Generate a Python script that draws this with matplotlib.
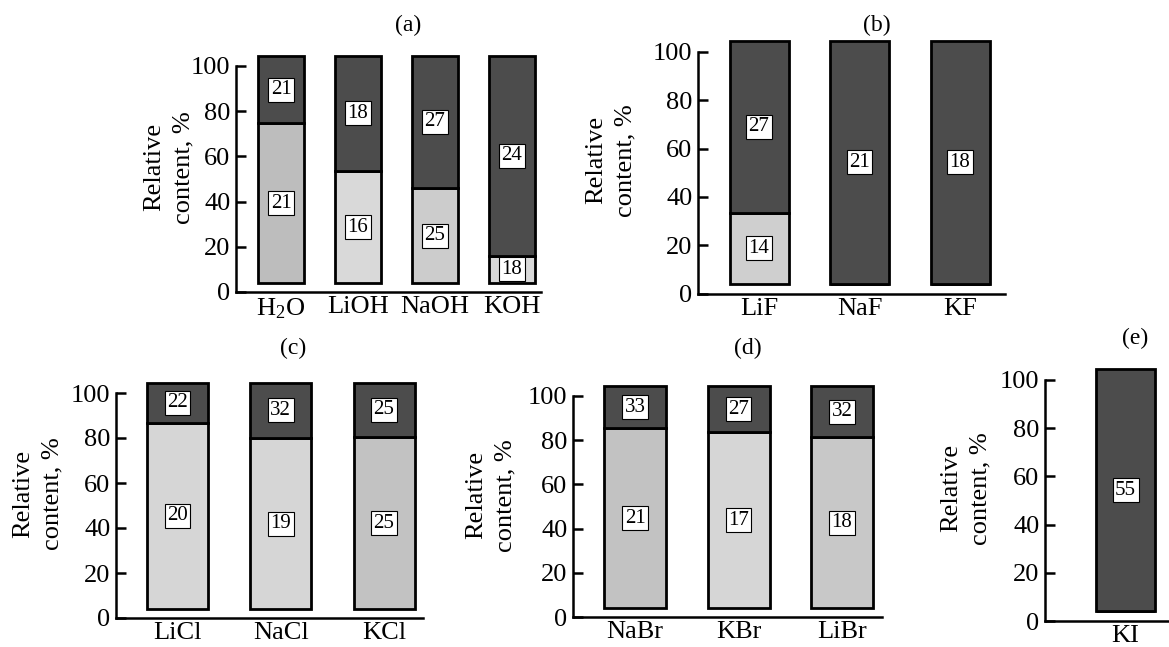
import matplotlib
matplotlib.use("Agg")
import matplotlib.pyplot as plt

# panel (a)
a_names = ['H$_2$O', 'LiOH', 'NaOH', 'KOH']
a_split = [74.7, 53.5, 46.0, 16.0]
a_low_txt = ['21', '16', '25', '18']
a_up_txt = ['21', '18', '27', '24']

# panel (b)
b_names = ['LiF', 'NaF', 'KF']
b_split = [33.4, 0.0, 0.0]
b_low_txt = ['14', None, None]
b_up_txt = ['27', '21', '18']

# panel (c)
c_names = ['LiCl', 'NaCl', 'KCl']
c_split = [86.7, 80.0, 80.4]
c_low_txt = ['20', '19', '25']
c_up_txt = ['22', '32', '25']

# panel (d)
d_names = ['NaBr', 'KBr', 'LiBr']
d_split = [85.5, 83.7, 81.4]
d_low_txt = ['21', '17', '18']
d_up_txt = ['33', '27', '32']

# panel (e)
e_names = ['KI']
e_split = [0.0]
e_low_txt = [None]
e_up_txt = ['55']

BAR_BASE = 4.0
BAR_TOP = 104.5

plt.rcParams['font.family'] = ['Liberation Serif', 'DejaVu Serif']
plt.rcParams['mathtext.fontset'] = 'custom'
plt.rcParams['mathtext.rm'] = 'Liberation Serif'
plt.rcParams['mathtext.it'] = 'Liberation Serif:italic'

W, H = 1169, 647
DARK = '#4c4c4c'
fig = plt.figure(figsize=(W / 100, H / 100), dpi=100)


def panel(names, split, low_txt, up_txt, light, geom, ylab_off, title, title_xy):
    left, right, zero, hundred, c0, sp, bw = geom
    scale = (zero - hundred) / 100.0
    ymax = 106
    ax = fig.add_axes([left / W, (H - zero) / H, (right - left) / W, ymax * scale / H])
    x = list(range(len(names)))
    w = bw / sp
    lows = [max(s - BAR_BASE, 0) for s in split]
    ups = [BAR_TOP - max(s, BAR_BASE) for s in split]
    ax.bar(x, lows, bottom=BAR_BASE, width=w, color=light, edgecolor='black', linewidth=2)
    ax.bar(x, ups, bottom=[max(s, BAR_BASE) for s in split], width=w,
           color=DARK, edgecolor='black', linewidth=2)
    box = dict(boxstyle='square,pad=0.12', fc='white', ec='black', lw=0.8)
    for i, s in enumerate(split):
        if low_txt[i]:
            ax.text(i, (BAR_BASE + s) / 2, low_txt[i], ha='center', va='center', fontsize=15, bbox=box)
        if up_txt[i]:
            ax.text(i, (max(s, BAR_BASE) + BAR_TOP) / 2, up_txt[i], ha='center', va='center',
                    fontsize=15, bbox=box)
    ax.set_xlim((left - c0) / sp, (right - c0) / sp)
    ax.set_ylim(0, ymax)
    ax.set_yticks([0, 20, 40, 60, 80, 100])
    ax.spines['left'].set_bounds(0, 100)
    for k in ['top', 'right']:
        ax.spines[k].set_visible(False)
    for k in ['left', 'bottom']:
        ax.spines[k].set_linewidth(1.8)
    ax.set_xticks(x)
    ax.set_xticklabels(names)
    ax.tick_params(axis='y', direction='in', length=7, width=1.8, labelsize=19, pad=4)
    ax.tick_params(axis='x', length=0, labelsize=19, pad=3)
    ax.set_ylabel('Relative\ncontent, %', fontsize=19, linespacing=1.4)
    ax.yaxis.set_label_coords(-ylab_off / (right - left), 0.52)
    ax.patch.set_visible(False)
    fig.text(title_xy[0] / W, 1 - title_xy[1] / H, title, ha='center', va='center', fontsize=17)
    return ax


panel(a_names, a_split, a_low_txt, a_up_txt, ['#bdbdbd', '#d9d9d9', '#cccccc', '#d9d9d9'],
      (236, 541, 292, 66, 281, 77, 46), 42, '(a)', (408, 25))
panel(b_names, b_split, b_low_txt, b_up_txt, ['#cfcfcf'] * 3,
      (698, 1005, 293.5, 52, 759, 100.5, 59), 62, '(b)', (877, 25))
panel(c_names, c_split, c_low_txt, c_up_txt, ['#d6d6d6', '#d6d6d6', '#c2c2c2'],
      (116, 423, 618, 393, 177.5, 103.25, 61), 53, '(c)', (293, 348))
panel(d_names, d_split, d_low_txt, d_up_txt, ['#c2c2c2', '#d6d6d6', '#c8c8c8'],
      (573, 882, 617, 396, 635, 103.5, 62), 57, '(d)', (748, 348))
panel(e_names, e_split, e_low_txt, e_up_txt, ['#cccccc'],
      (1045, 1169, 621, 380, 1125.5, 100, 59), 54, '(e)', (1135, 338))

fig.savefig('out.png', dpi=100)
